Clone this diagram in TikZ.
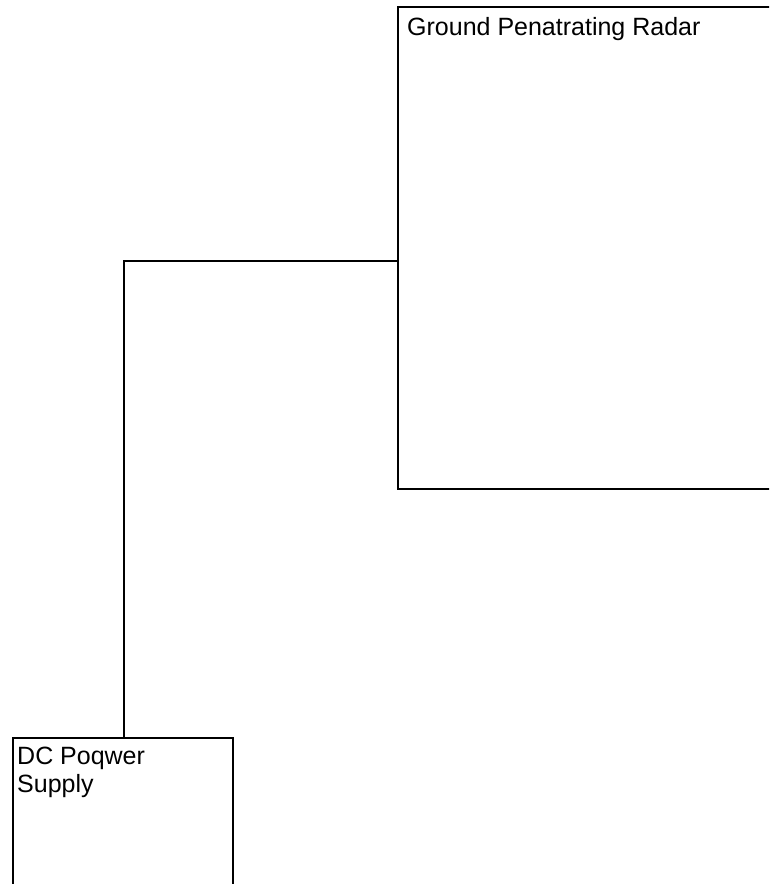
\documentclass[tikz,border=0pt]{standalone}
\usepackage{fontspec}
\setmainfont{Liberation Sans}
\begin{document}
\begin{tikzpicture}[x=1pt,y=1pt,
 boxnode/.style={draw=black,line width=1.6pt,rectangle,inner sep=0pt,anchor=north west},
 lbl/.style={anchor=base west,inner sep=0pt,font=\fontsize{25}{28}\selectfont},
 wire/.style={draw=black,line width=1.6pt}]
\useasboundingbox (0,0) rectangle (769,884);
\clip (0,0) rectangle (769,884);
\node[boxnode,minimum width=420pt,minimum height=482pt] (radar) at (397,878) {};
\node[boxnode,minimum width=220pt,minimum height=180pt] (psu) at (12,147) {};
\node[lbl] (radarlbl) at (407,848) {Ground Penatrating Radar};
\node[lbl] (psulbl) at (17,119) {DC Poqwer};
\node[lbl] (psulbl2) at (17,91) {Supply};
\coordinate (bend) at (124,623);
\draw[wire] (radar.west |- bend) -- (bend) -- (psu.north -| bend);
\end{tikzpicture}
\end{document}
